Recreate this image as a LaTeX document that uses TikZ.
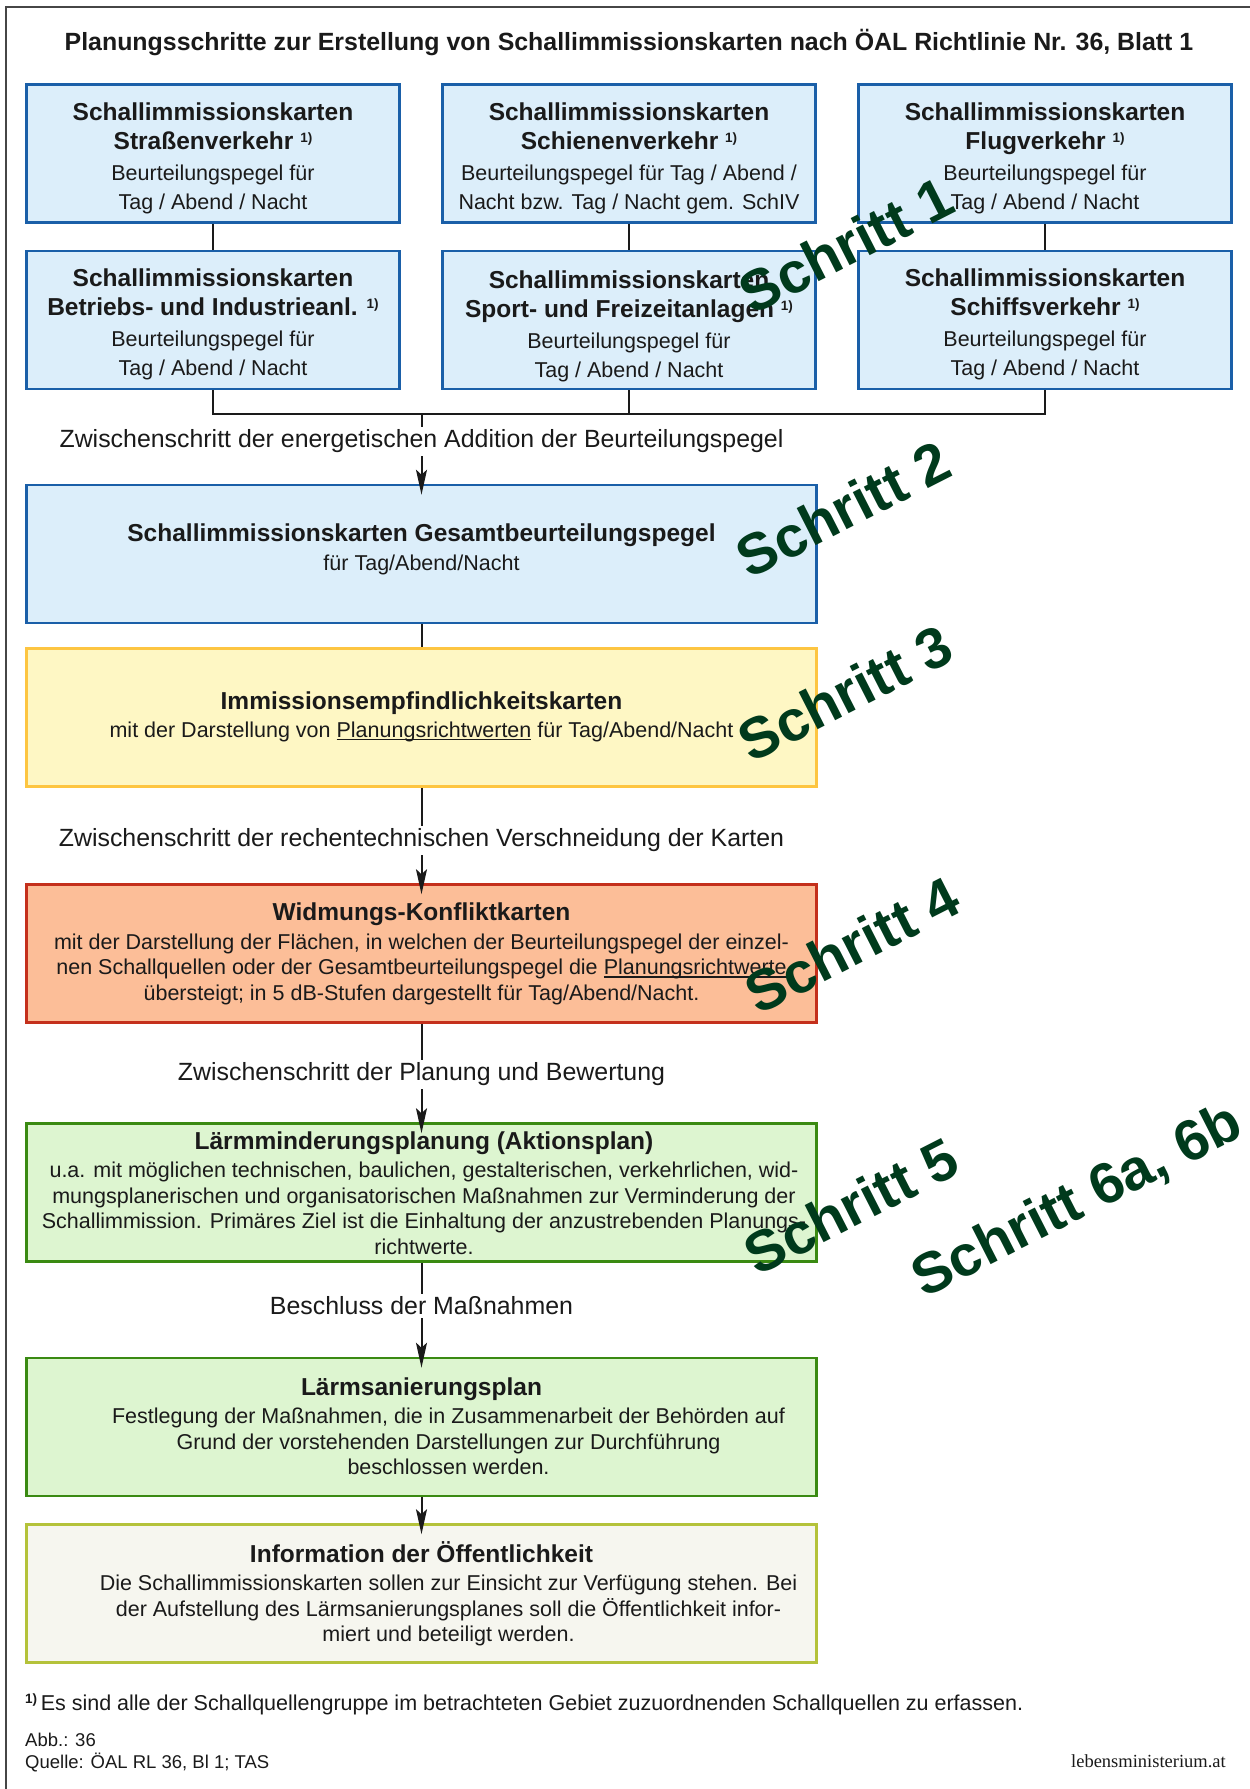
\documentclass[tikz,border=0pt]{standalone}
\usepackage{fontspec}
\setmainfont{Liberation Sans}
\newfontfamily\webserif{Liberation Serif}
\usetikzlibrary{arrows.meta}
\definecolor{bluefill}{RGB}{220,238,250}
\definecolor{blueline}{RGB}{26,95,168}
\definecolor{yelfill}{RGB}{254,247,196}
\definecolor{yelline}{RGB}{253,197,65}
\definecolor{orfill}{RGB}{252,190,152}
\definecolor{orline}{RGB}{196,48,28}
\definecolor{grfill}{RGB}{221,245,208}
\definecolor{grline}{RGB}{58,138,18}
\definecolor{infofill}{RGB}{246,246,239}
\definecolor{infoline}{RGB}{180,194,58}
\definecolor{schrittgreen}{RGB}{0,58,28}
\definecolor{txt}{RGB}{26,26,26}
\definecolor{framecol}{RGB}{70,70,70}
\newcommand{\fnmark}{\raisebox{7pt}{\fontsize{13.5}{13.5}\selectfont\bfseries 1)}}
\newcommand{\ttl}[1]{{\bfseries\fontsize{24.5}{29}\selectfont #1}}
\newcommand{\rgt}{\hspace*{54pt}}
\newcommand{\ulin}[1]{\begingroup\setbox0\hbox{#1}\rlap{\rule[-2.6pt]{\wd0}{1.1pt}}\box0\endgroup}
\tikzset{
  box/.style={draw, line width=2.6pt, inner sep=0pt},
  smallbox/.style={box, draw=blueline, fill=bluefill, minimum width=373pt, minimum height=138pt},
  bigbox/.style={box, minimum width=790pt, minimum height=138pt},
  boxtext/.style={align=center, inner sep=0pt, text=txt, font=\fontsize{21.5}{29}\selectfont},
  bodytext/.style={align=center, inner sep=0pt, text=txt, font=\fontsize{21.5}{25.5}\selectfont},
  conn/.style={draw=txt, line width=2pt},
  arr/.style={conn, -{Stealth[length=25pt,width=11pt,inset=5pt]}, shorten >=-11pt},
  lbl/.style={fill=white, inner sep=3pt, text=txt, font=\fontsize{24.9}{29}\selectfont},
  schritt/.style={rotate=27, text=schrittgreen, inner sep=0pt, font=\bfseries\fontsize{57.5}{58}\selectfont},
  small/.style={inner sep=0pt, text=txt, font=\fontsize{18.5}{22}\selectfont}
}
\begin{document}
\begin{tikzpicture}[x=1pt,y=-1pt]
\useasboundingbox (0,0) rectangle (1250,1789);
\fill[white] (0,0) rectangle (1250,1789);
\draw[framecol, line width=1.3pt] (6,1800) -- (6,7) -- (1260,7);

\node[text=txt, font=\bfseries\fontsize{24.9}{30}\selectfont] (title) at (629,43)
  {Planungsschritte zur Erstellung von Schallimmissionskarten nach ÖAL Richtlinie Nr. 36, Blatt 1};

% top boxes
\node[smallbox] (r1c1) at (213,153.5) {};
\node[smallbox] (r1c2) at (629,153.5) {};
\node[smallbox] (r1c3) at (1045,153.5) {};
\node[smallbox] (r2c1) at (213,320) {};
\node[smallbox] (r2c2) at (629,320) {};
\node[smallbox] (r2c3) at (1045,320) {};
\node[boxtext] (r1c1t) at (213,158) {\ttl{Schallimmissionskarten}\\\ttl{Straßenverkehr \fnmark}\\[2pt]Beurteilungspegel für\\Tag / Abend / Nacht};
\node[boxtext] (r1c2t) at (629,158) {\ttl{Schallimmissionskarten}\\\ttl{Schienenverkehr \fnmark}\\[2pt]Beurteilungspegel für Tag / Abend /\\Nacht bzw. Tag / Nacht gem. SchIV};
\node[boxtext] (r1c3t) at (1045,158) {\ttl{Schallimmissionskarten}\\\ttl{Flugverkehr \fnmark}\\[2pt]Beurteilungspegel für\\Tag / Abend / Nacht};
\node[boxtext] (r2c1t) at (213,324.5) {\ttl{Schallimmissionskarten}\\\ttl{Betriebs- und Industrieanl. \fnmark}\\[2pt]Beurteilungspegel für\\Tag / Abend / Nacht};
\node[boxtext] (r2c2t) at (629,326.5) {\ttl{Schallimmissionskarten}\\\ttl{Sport- und Freizeitanlagen \fnmark}\\[2pt]Beurteilungspegel für\\Tag / Abend / Nacht};
\node[boxtext] (r2c3t) at (1045,324.5) {\ttl{Schallimmissionskarten}\\\ttl{Schiffsverkehr \fnmark}\\[2pt]Beurteilungspegel für\\Tag / Abend / Nacht};

% big boxes
\node[bigbox, draw=blueline, fill=bluefill] (gesamt) at (421.5,554) {};
\node[boxtext] (gesamtt) at (421.5,549) {\ttl{Schallimmissionskarten Gesamtbeurteilungspegel}\\für Tag/Abend/Nacht};
\node[bigbox, draw=yelline, fill=yelfill] (yellow) at (421.5,717.5) {};
\node[boxtext, font=\fontsize{21.5}{28}\selectfont] (yellowt) at (421.5,717)
  {\ttl{Immissionsempfindlichkeitskarten}\\mit der Darstellung von \ulin{Planungsrichtwerten} für Tag/Abend/Nacht};
\node[bigbox, draw=orline, fill=orfill] (orange) at (421.5,953.5) {};
\node[bodytext] (oranget) at (421.5,954)
  {\ttl{Widmungs-Konfliktkarten}\\[3pt]mit der Darstellung der Flächen, in welchen der Beurteilungspegel der einzel-\\nen Schallquellen oder der Gesamtbeurteilungspegel die \ulin{Planungsrichtwerte}\\übersteigt; in 5 dB-Stufen dargestellt für Tag/Abend/Nacht.};
\node[bigbox, draw=grline, fill=grfill] (green1) at (421.5,1192.5) {};
\node[bodytext] (green1t) at (424,1193)
  {\ttl{Lärmminderungsplanung (Aktionsplan)}\\[3pt]u.a. mit möglichen technischen, baulichen, gestalterischen, verkehrlichen, wid-\\mungsplanerischen und organisatorischen Maßnahmen zur Verminderung der\\Schallimmission. Primäres Ziel ist die Einhaltung der anzustrebenden Planungs-\\richtwerte.};
\node[bigbox, draw=grline, fill=grfill] (green2) at (421.5,1427) {};
\node[bodytext] (green2t) at (421.5,1426)
  {\ttl{Lärmsanierungsplan}\\[3pt]\rgt Festlegung der Maßnahmen, die in Zusammenarbeit der Behörden auf\\\rgt Grund der vorstehenden Darstellungen zur Durchführung\\\rgt beschlossen werden.};
\node[bigbox, draw=infoline, fill=infofill] (info) at (421.5,1593.5) {};
\node[bodytext] (infot) at (421.5,1593.5)
  {\ttl{Information der Öffentlichkeit}\\[3pt]\rgt Die Schallimmissionskarten sollen zur Einsicht zur Verfügung stehen. Bei\\\rgt der Aufstellung des Lärmsanierungsplanes soll die Öffentlichkeit infor-\\\rgt miert und beteiligt werden.};

% connectors
\coordinate (bus) at (421.5,414);
\draw[conn] (r1c1) -- (r2c1);
\draw[conn] (r1c2) -- (r2c2);
\draw[conn] (r1c3) -- (r2c3);
\draw[conn] (r2c1.south) |- (r2c3.south |- bus) -- (r2c3.south);
\draw[conn] (r2c2.south) -- (r2c2.south |- bus);
\draw[arr] (bus) -- (gesamt.north);
\draw[conn] (gesamt) -- (yellow);
\draw[arr] (yellow) -- (orange);
\draw[arr] (orange) -- (green1);
\draw[arr] (green1) -- (green2);
\draw[arr] (green2) -- (info);

% connector labels
\node[lbl] (l1) at (421.5,441.5) {Zwischenschritt der energetischen Addition der Beurteilungspegel};
\node[lbl] (l2) at (421.5,840.5) {Zwischenschritt der rechentechnischen Verschneidung der Karten};
\node[lbl] (l3) at (421.5,1074.5) {Zwischenschritt der Planung und Bewertung};
\node[lbl] (l4) at (421.5,1306) {Beschluss der Maßnahmen};

% step labels
\node[schritt] (s1) at (846,245) {Schritt 1};
\node[schritt] (s2) at (843,509) {Schritt 2};
\node[schritt] (s3) at (845,693) {Schritt 3};
\node[schritt] (s4) at (852,945) {Schritt 4};
\node[schritt] (s5) at (851,1206) {Schritt 5};
\node[schritt] (s6) at (1078,1202) {Schritt 6a, 6b};

% footnote and source
\node[anchor=west, inner sep=0pt, text=txt, font=\fontsize{21.5}{26}\selectfont] (fn) at (25,1704) {\fnmark\,Es sind alle der Schallquellengruppe im betrachteten Gebiet zuzuordnenden Schallquellen zu erfassen.};
\node[small, anchor=west] (abb) at (25,1740) {Abb.: 36};
\node[small, anchor=west] (quelle) at (25,1762) {Quelle: ÖAL RL 36, Bl 1; TAS};
\node[small, anchor=east, font=\webserif\fontsize{18.5}{22}\selectfont] (web) at (1226,1761) {lebensministerium.at};
\end{tikzpicture}
\end{document}
